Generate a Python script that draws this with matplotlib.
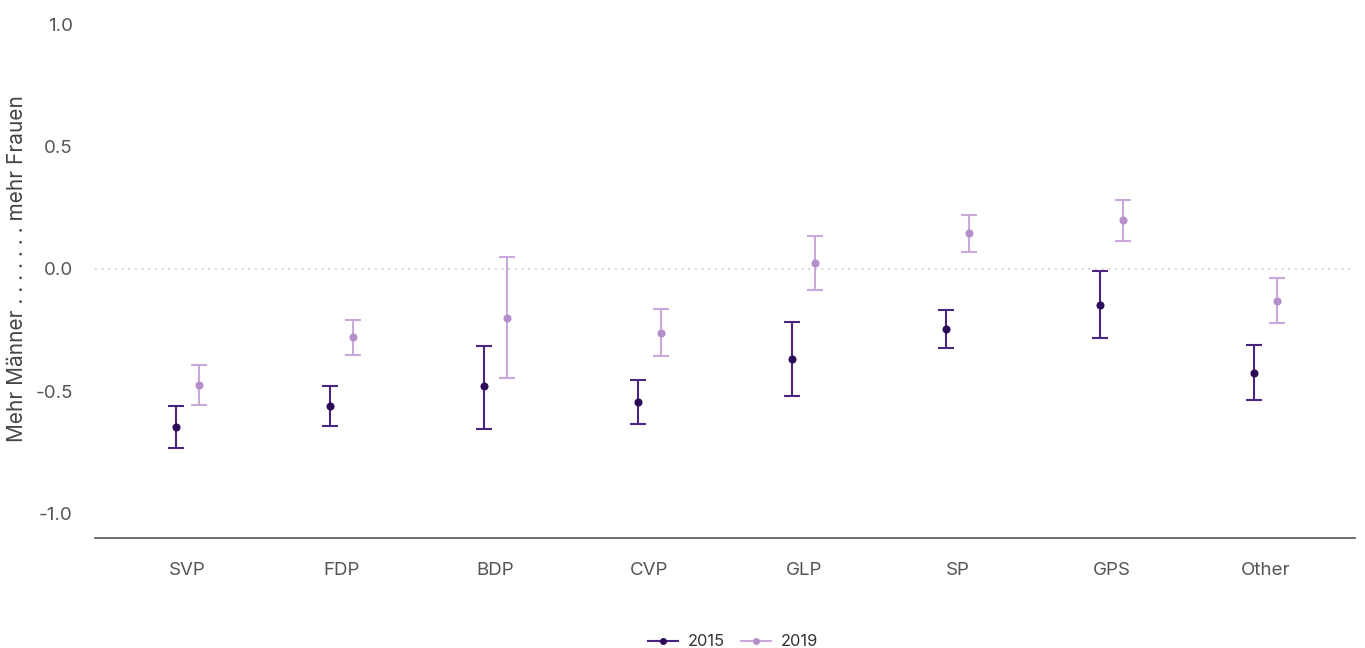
import matplotlib
matplotlib.use("Agg")
import matplotlib.pyplot as plt
import numpy as np
from matplotlib.lines import Line2D

parties = ["SVP", "FDP", "BDP", "CVP", "GLP", "SP", "GPS", "Other"]
est_2015 = [-0.648, -0.562, -0.480, -0.546, -0.367, -0.244, -0.147, -0.424]
low_2015 = [-0.733, -0.644, -0.656, -0.635, -0.521, -0.322, -0.281, -0.534]
high_2015 = [-0.562, -0.480, -0.314, -0.456, -0.216, -0.167, -0.008, -0.310]
est_2019 = [-0.473, -0.277, -0.200, -0.261, 0.024, 0.147, 0.200, -0.130]
low_2019 = [-0.558, -0.350, -0.444, -0.354, -0.086, 0.069, 0.114, -0.220]
high_2019 = [-0.391, -0.208, 0.049, -0.163, 0.134, 0.220, 0.281, -0.037]
years = ["2015", "2019"]
yticks = [-1.0, -0.5, 0.0, 0.5, 1.0]

plt.rcParams['font.family'] = ['Inter', 'DejaVu Sans']

fig = plt.figure(figsize=(13.65, 6.48), dpi=100)
ax = fig.add_axes([0.0696, 0.1698, 0.9231, 0.8302])

x = np.arange(len(parties))
off = 0.075
series = [
    (est_2015, low_2015, high_2015, -off, "#4a2580", "#2d0a5a"),
    (est_2019, low_2019, high_2019, off, "#c9a9db", "#b58fcb"),
]
for (est, lo, hi, dx, lc, pc) in series:
    est = np.array(est); lo = np.array(lo); hi = np.array(hi)
    ax.errorbar(x + dx, est, yerr=[est - lo, hi - est], fmt='none',
                ecolor=lc, elinewidth=1.5, capsize=6, capthick=1.5, zorder=2)
    ax.plot(x + dx, est, 'o', color=pc, markersize=4.8, zorder=3)

ax.axhline(0, color="#c8c8c8", linestyle=(0, (1, 3)), linewidth=1.2, zorder=1)

ax.set_xlim(-0.6, 7.58)
ax.set_ylim(-1.1, 1.1)
ax.set_xticks(x)
ax.set_xticklabels(parties)
ax.set_yticks(yticks)
ax.set_yticklabels([f"{v:.1f}" for v in yticks])
ax.tick_params(axis='both', length=0, labelsize=13.5, labelcolor="#555555")
ax.tick_params(axis='x', pad=17)
ax.tick_params(axis='y', pad=16)
for s in ["top", "right", "left"]:
    ax.spines[s].set_visible(False)
ax.spines["bottom"].set_color("#555555")
ax.spines["bottom"].set_linewidth(1.2)

ax.set_ylabel("Mehr Männer . . . . . . . mehr Frauen", fontsize=15, color="#444444", labelpad=6)

handles = [Line2D([0], [0], color="#4a2580", marker='o', markerfacecolor="#2d0a5a",
                  markeredgecolor="#2d0a5a", markersize=4, linewidth=1.5),
           Line2D([0], [0], color="#c9a9db", marker='o', markerfacecolor="#b58fcb",
                  markeredgecolor="#b58fcb", markersize=4, linewidth=1.5)]
fig.legend(handles, years, loc='lower center', bbox_to_anchor=(0.537, -0.025), ncol=2,
           frameon=False, fontsize=11.8, handlelength=1.8, handletextpad=0.6,
           columnspacing=1.0, labelcolor="#333333")

fig.savefig("out.png", dpi=100)
